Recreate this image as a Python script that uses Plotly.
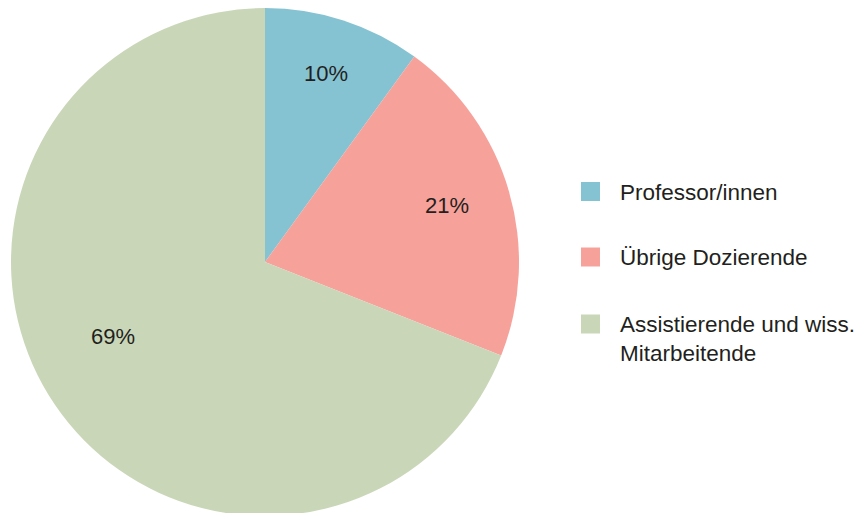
import math
import plotly.graph_objects as go

categories = ["Professor/innen", "Übrige Dozierende", "Assistierende und wiss.<br>Mitarbeitende"]
values = [10, 21, 69]
colors = ["#85c3d3", "#f6a19a", "#c9d7b8"]

# label placement style (fraction of radius, angular nudge in degrees)
label_rfrac = [0.78, 0.75, 0.665]
label_nudge = [0, -1, 8]

W, H = 865, 513
OFF = 8  # page body margin
FONT = "Liberation Sans, Arial, sans-serif"
TXT = "#231f20"

R = 254
CX, CY = 265 - OFF, 262 - OFF  # pie center in figure pixels

fig = go.Figure()
fig.add_trace(go.Pie(
    labels=categories, values=values, sort=False, direction="clockwise", rotation=0,
    marker=dict(colors=colors, line=dict(width=0)),
    textposition="none",
    domain=dict(x=[(CX - R) / W, (CX + R) / W], y=[1 - (CY + R) / H, 1 - (CY - R) / H]),
    showlegend=False, hoverinfo="label+percent",
))

# percentage labels, placed along each slice's bisector
total = sum(values)
cum = 0
for v, rf, nd in zip(values, label_rfrac, label_nudge):
    mid = (cum + v / 2) / total * 360 + nd
    cum += v
    px = CX + rf * R * math.sin(math.radians(mid))
    py = CY - rf * R * math.cos(math.radians(mid))
    fig.add_annotation(xref="paper", yref="paper", x=px / W, y=1 - py / H,
                       xanchor="center", yanchor="middle", showarrow=False,
                       text=f"{round(v / total * 100)}%", font=dict(family=FONT, size=22, color=TXT))

# manual legend
legend_y = [191.5, 257, 324]
for cat, col, yc in zip(categories, colors, legend_y):
    yc -= OFF
    fig.add_shape(type="rect", xref="paper", yref="paper",
                  x0=(581 - OFF) / W, x1=(600 - OFF) / W,
                  y0=1 - (yc + 9.5) / H, y1=1 - (yc - 9.5) / H,
                  fillcolor=col, line=dict(width=0))
    fig.add_annotation(xref="paper", yref="paper", x=(618 - OFF) / W, y=1 - (yc - 14) / H,
                       xanchor="left", yanchor="top", align="left", showarrow=False,
                       text=cat, font=dict(family=FONT, size=22.5, color=TXT))

fig.update_layout(width=W, height=H, margin=dict(l=0, r=0, t=0, b=0),
                  paper_bgcolor="white", plot_bgcolor="white")
fig.write_html("out.html")
